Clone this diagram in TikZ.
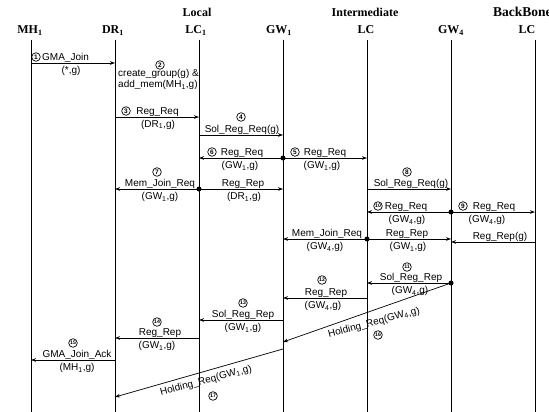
\documentclass[tikz,border=0pt]{standalone}
\usepackage{fontspec}
\setmainfont{Liberation Serif}
\newfontfamily\lblfont{Liberation Sans}
\usetikzlibrary{arrows.meta}
\newcommand\sub[1]{\textsubscript{#1}}
\begin{document}
\begin{tikzpicture}[x=1pt,y=-1pt,
  lifeline/.style={line width=0.8pt},
  msg/.style={line width=0.7pt,-{Stealth[length=5pt,width=3.6pt]}},
  lbl/.style={font=\lblfont\fontsize{10}{12}\selectfont, inner sep=0pt, anchor=base},
  cnum/.style={circle, draw, line width=0.7pt, inner sep=0pt, minimum size=8.6pt,
    font=\lblfont\bfseries\fontsize{6.5}{7}\selectfont},
  cnumw/.style={cnum, font=\lblfont\bfseries\fontsize{5.2}{6}\selectfont},
  hdr/.style={font=\bfseries\fontsize{12}{14}\selectfont, inner sep=0pt, anchor=base},
  dot/.style={circle, fill, inner sep=0pt, minimum size=5pt}]
\useasboundingbox (0,0) rectangle (549,412);
\clip (0,0) rectangle (549,412);
% headers
\node[hdr] (hLocal) at (197,17) {Local};
\node[hdr] (hInter) at (365,17) {Intermediate};
\node[hdr,anchor=base west] (hBack) at (493,17) {\fontsize{13.5}{15}\selectfont BackBone};
\node[hdr] (hMH) at (30,34) {MH\sub1};
\node[hdr] (hDR) at (113,34) {DR\sub1};
\node[hdr] (hLCa) at (196,34) {LC\sub1};
\node[hdr] (hGWa) at (279,34) {GW\sub1};
\node[hdr] (hLCi) at (366,34) {LC};
\node[hdr] (hGWd) at (451,34) {GW\sub4};
\node[hdr] (hLCb) at (527,34) {LC};
% lifelines
\foreach \n/\x in {MH/31,DR/115,LCa/199,GWa/283,LCi/367,GWd/451,LCb/535}{
  \coordinate (\n t) at (\x,40);
  \coordinate (\n b) at (\x,412);
  \draw[lifeline] (\n t) -- (\n b);
}
% M1
\coordinate (a1) at (31,63); \coordinate (b1) at (115,63);
\draw[msg] (a1) -- (b1);
\node[cnum] (n1) at (36,57) {1};
\node[lbl,anchor=base west] (t1) at (42,60.5) {GMA\_Join};
\node[lbl] (u1) at (71,73.5) {(*,g)};
% M2
\node[cnum] (n2) at (160,65) {2};
\node[lbl,anchor=base west] (t2a) at (118,77) {create\_group(g) \&};
\node[lbl,anchor=base west] (t2b) at (118,88) {add\_mem(MH\sub1,g)};
% M3
\coordinate (a3) at (115,117); \coordinate (b3) at (199,117);
\draw[msg] (a3) -- (b3);
\node[cnum] (n3) at (126,111) {3};
\node[lbl] (t3) at (157.5,114.5) {Reg\_Req};
\node[lbl] (u3) at (158,127.5) {(DR\sub1,g)};
% M4
\coordinate (a4) at (199,135); \coordinate (b4) at (283,135);
\draw[msg] (a4) -- (b4);
\node[cnum] (n4) at (241,117) {4};
\node[lbl] (t4) at (242,132.5) {Sol\_Reg\_Req(g)};
% M5 / M6
\coordinate (a5) at (283,158); \coordinate (b5) at (367,158); \coordinate (b6) at (199,158);
\draw[msg] (a5) -- (b5);
\draw[msg] (a5) -- (b6);
\node[dot] (d5) at (a5) {};
\node[cnum] (n5) at (295,152) {5};
\node[lbl] (t5) at (325,155.5) {Reg\_Req};
\node[lbl] (u5) at (322,168.5) {(GW\sub1,g)};
\node[cnum] (n6) at (212,152) {6};
\node[lbl] (t6) at (242,155.5) {Reg\_Req};
\node[lbl] (u6) at (240,168.5) {(GW\sub1,g)};
% M7
\coordinate (a7) at (199,189); \coordinate (b7) at (115,189); \coordinate (c7) at (283,189);
\draw[msg] (a7) -- (b7);
\draw[msg] (a7) -- (c7);
\node[dot] (d7) at (a7) {};
\node[cnum] (n7) at (157,172) {7};
\node[lbl] (t7) at (160,186.5) {Mem\_Join\_Req};
\node[lbl] (u7) at (160,199.5) {(GW\sub1,g)};
\node[lbl] (t7b) at (243,186.5) {Reg\_Rep};
\node[lbl] (u7b) at (244,199.5) {(DR\sub1,g)};
% M8
\coordinate (a8) at (367,189); \coordinate (b8) at (451,189);
\draw[msg] (a8) -- (b8);
\node[cnum] (n8) at (407,172) {8};
\node[lbl] (t8) at (411,186.5) {Sol\_Reg\_Req(g)};
% M9 / M10
\coordinate (a9) at (451,212); \coordinate (b9) at (535,212); \coordinate (b10) at (367,212);
\draw[msg] (a9) -- (b9);
\draw[msg] (a9) -- (b10);
\node[dot] (d9) at (a9) {};
\node[cnumw] (n10) at (378,206) {10};
\node[lbl] (t10) at (406,209.5) {Reg\_Req};
\node[lbl] (u10) at (407,222.5) {(GW\sub4,g)};
\node[cnum] (n9) at (463,206) {9};
\node[lbl] (t9) at (494,209.5) {Reg\_Req};
\node[lbl] (u9) at (487,222.5) {(GW\sub4,g)};
% M11
\coordinate (a11) at (367,239); \coordinate (b11) at (283,239); \coordinate (c11) at (451,239);
\draw[msg] (a11) -- (b11);
\draw[msg] (a11) -- (c11);
\node[dot] (d11) at (a11) {};
\node[lbl] (t11) at (327,236.5) {Mem\_Join\_Req};
\node[lbl] (u11) at (325,249.5) {(GW\sub4,g)};
\node[lbl] (t11b) at (407,236.5) {Reg\_Rep};
\node[lbl] (u11b) at (408,249.5) {(GW\sub1,g)};
% M12
\coordinate (a12) at (535,242); \coordinate (b12) at (451,242);
\draw[msg] (a12) -- (b12);
\node[lbl] (t12) at (500,239.5) {Reg\_Rep(g)};
% M13
\coordinate (a13) at (451,283); \coordinate (b13) at (367,283); \coordinate (c13) at (283,342);
\draw[msg] (a13) -- (b13);
\draw[msg] (a13) -- (c13);
\node[dot] (d13) at (a13) {};
\node[cnumw] (n13) at (407,267) {11};
\node[lbl] (t13) at (411,280.5) {Sol\_Reg\_Rep};
\node[lbl] (u13) at (410,293.5) {(GW\sub4,g)};
\node[lbl,anchor=center,rotate=15] (h16) at (374,323) {Holding\_Req(GW\sub4,g)};
\node[cnumw] (n16) at (378,335) {16};
% M14
\coordinate (a14) at (367,298); \coordinate (b14) at (283,298);
\draw[msg] (a14) -- (b14);
\node[cnumw] (n14) at (322,280) {12};
\node[lbl] (t14) at (326,295.5) {Reg\_Rep};
\node[lbl] (u14) at (323,308.5) {(GW\sub4,g)};
% M15
\coordinate (a15) at (283,320); \coordinate (b15) at (199,320);
\draw[msg] (a15) -- (b15);
\node[cnumw] (n15) at (243,303) {13};
\node[lbl] (t15) at (243,317.5) {Sol\_Reg\_Rep};
\node[lbl] (u15) at (243,330.5) {(GW\sub1,g)};
% M16
\coordinate (a16) at (199,338); \coordinate (b16) at (115,338);
\draw[msg] (a16) -- (b16);
\node[cnumw] (n16b) at (157,322) {14};
\node[lbl] (t16) at (160,335.5) {Reg\_Rep};
\node[lbl] (u16) at (157,348.5) {(GW\sub1,g)};
% M17
\coordinate (a17) at (115,360); \coordinate (b17) at (31,360);
\draw[msg] (a17) -- (b17);
\node[cnumw] (n17) at (73,343) {15};
\node[lbl] (t17) at (77,357.5) {GMA\_Join\_Ack};
\node[lbl] (u17) at (77,370.5) {(MH\sub1,g)};
% M19 diagonal
\coordinate (a19) at (283,349); \coordinate (b19) at (115,397);
\draw[msg] (a19) -- (b19);
\node[lbl,anchor=center,rotate=15] (h19) at (206,381) {Holding\_Req(GW\sub1,g)};
\node[cnumw] (n19) at (213,396) {17};
\end{tikzpicture}
\end{document}
